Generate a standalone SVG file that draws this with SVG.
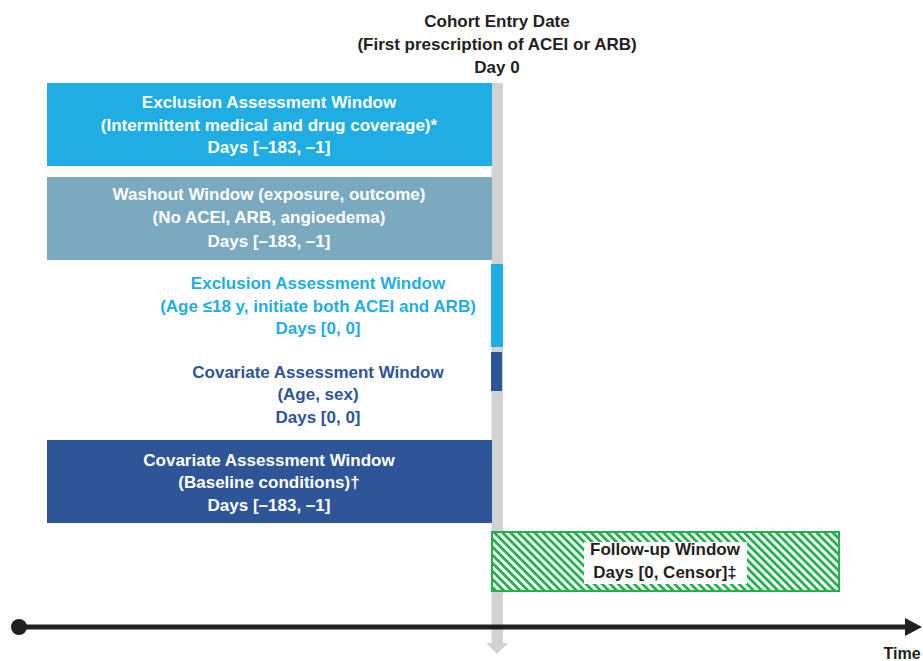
<svg xmlns="http://www.w3.org/2000/svg" width="923" height="661" viewBox="0 0 923 661">
<defs>
<style>
text{font-family:"Liberation Sans",Arial,sans-serif;font-weight:bold;font-size:17px;text-anchor:middle}
.dk{fill:#231F20}
.wh{fill:#FFFFFF}
.lb{fill:#1FADE4}
.db{fill:#2E5597}
</style>
<pattern id="hatch" patternUnits="userSpaceOnUse" width="5.7" height="5.7" patternTransform="rotate(-45)">
<rect width="5.7" height="5.7" fill="#FFFFFF"/>
<rect width="2.8" height="5.7" fill="#22B04B"/>
</pattern>
</defs>
<rect width="923" height="661" fill="#FFFFFF"/>

<g id="header">
<text class="dk" x="497" y="27">Cohort Entry Date</text>
<text class="dk" x="497" y="50">(First prescription of ACEI or ARB)</text>
<text class="dk" x="497" y="73">Day 0</text>
</g>

<g id="day0-axis">
<rect x="491.5" y="83" width="11.5" height="560" fill="#D1D2D4"/>
<polygon points="486,643 508,643 497,654" fill="#D1D2D4"/>
</g>

<g id="exclusion-window-1">
<rect x="47" y="83" width="445" height="83" fill="#1FADE4"/>
<text class="wh" x="269" y="108">Exclusion Assessment Window</text>
<text class="wh" x="269" y="131">(Intermittent medical and drug coverage)*</text>
<text class="wh" x="269" y="153">Days [–183, –1]</text>
</g>

<g id="washout-window">
<rect x="47" y="177" width="445" height="83" fill="#7BA9C0"/>
<text class="wh" x="269" y="200">Washout Window (exposure, outcome)</text>
<text class="wh" x="269" y="223">(No ACEI, ARB, angioedema)</text>
<text class="wh" x="269" y="247">Days [–183, –1]</text>
</g>

<g id="exclusion-window-2">
<rect x="491" y="264" width="12" height="83" fill="#1FADE4"/>
<text class="lb" x="318" y="289">Exclusion Assessment Window</text>
<text class="lb" x="318" y="312">(Age ≤18 y, initiate both ACEI and ARB)</text>
<text class="lb" x="318" y="334">Days [0, 0]</text>
</g>

<g id="covariate-window-1">
<rect x="491" y="352" width="11" height="39" fill="#2E5597"/>
<text class="db" x="318" y="378">Covariate Assessment Window</text>
<text class="db" x="318" y="400">(Age, sex)</text>
<text class="db" x="318" y="423">Days [0, 0]</text>
</g>

<g id="covariate-window-2">
<rect x="47" y="440" width="445" height="83" fill="#2E5597"/>
<text class="wh" x="269" y="466">Covariate Assessment Window</text>
<text class="wh" x="269" y="488">(Baseline conditions)†</text>
<text class="wh" x="269" y="511">Days [–183, –1]</text>
</g>

<g id="follow-up-window">
<rect x="492" y="532" width="347" height="59" fill="url(#hatch)" stroke="#22B04B" stroke-width="2"/>
<rect x="584" y="542" width="163" height="42" fill="#FFFFFF"/>
<text class="dk" x="665" y="555">Follow-up Window</text>
<text class="dk" x="665" y="578">Days [0, Censor]‡</text>
</g>

<g id="connectors">
<line x1="19" y1="627" x2="906" y2="627" stroke="#231F20" stroke-width="5"/>
<circle cx="19" cy="627" r="8" fill="#231F20"/>
<polygon points="905,618 922,627 905,636" fill="#231F20"/>
</g>

<g id="time-label">
<text class="dk" x="902" y="659" style="font-size:16px">Time</text>
</g>
</svg>
